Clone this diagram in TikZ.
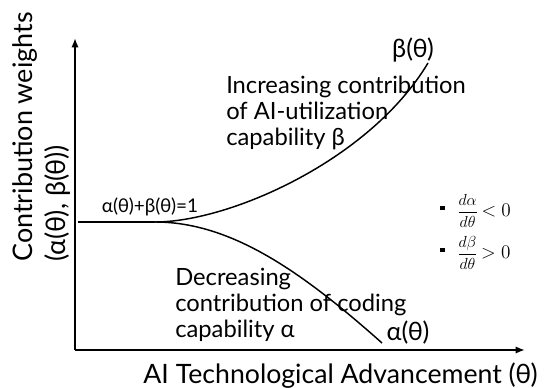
\documentclass[tikz,border=0pt]{standalone}
\usepackage{fontspec}
\setmainfont{Lato}
\usetikzlibrary{arrows.meta}
\tikzset{
  axis/.style={line width=1.5pt, -{Latex[length=7pt,width=5.5pt]}},
  curve/.style={line width=1.1pt},
  axislabel/.style={font=\fontsize{20}{24.75}\selectfont, inner sep=0pt},
  curvelabel/.style={font=\fontsize{19}{22}\selectfont, inner sep=0pt},
  note/.style={font=\fontsize{17.8}{19.5}\selectfont, align=left, inner sep=0pt},
  bulletnote/.style={font=\fontsize{15}{18}\selectfont, anchor=west, inner sep=0pt},
}
\newcommand{\sqbullet}{\rule[4.5pt]{3.5pt}{3.5pt}\hspace{9pt}}
\newcommand{\ratefrac}[2]{{\fontsize{12}{14}\selectfont$\displaystyle\frac{d#1}{d#2}$}}
\begin{document}
\begin{tikzpicture}[x=0.75pt,y=-0.75pt]
  \useasboundingbox (0,0) rectangle (547,388);
  % axes
  \coordinate (origin) at (75,350);
  \coordinate (ytip) at (75,38);
  \coordinate (xtip) at (525,350);
  \draw[axis] (origin) -- (ytip);
  \draw[axis] (origin) -- (xtip);
  \node[axislabel, anchor=east] at (538,376) (xlabel) {AI Technological Advancement (θ)};
  \node[axislabel, font=\fontsize{20.2}{24.75}\selectfont, rotate=90, align=left, anchor=west]
    at (41.5,262) (ylabel) {Contribution weights\\(α(θ), β(θ))};
  % curves
  \coordinate (start) at (78,222);
  \coordinate (split) at (155,222);
  \coordinate (betaend) at (428,63);
  \coordinate (alphaend) at (382,343);
  \draw[curve] (start) -- (split);
  \draw[curve] (split) .. controls (230,222) and (370,160) .. (betaend);
  \draw[curve] (split) .. controls (230,222) and (300,270) .. (alphaend);
  \node[curvelabel] at (413,50) (betalabel) {β(θ)};
  \node[curvelabel] at (408,333) (alphalabel) {α(θ)};
  \node[font=\fontsize{14.2}{16}\selectfont, inner sep=0pt] at (150,207) (sum) {α(θ)+β(θ)=1};
  % notes
  \node[note, anchor=west] at (226,113) (inc)
    {Increasing contribution\\of AI-utilization\\capability β};
  \node[note, anchor=west] at (175,305) (dec)
    {Decreasing\\contribution of coding\\capability α};
  \node[bulletnote] at (440,211) (da) {\sqbullet\ratefrac{\alpha}{\theta}$\,<0$};
  \node[bulletnote] at (440,253) (db) {\sqbullet\ratefrac{\beta}{\theta}$\,>0$};
\end{tikzpicture}
\end{document}
